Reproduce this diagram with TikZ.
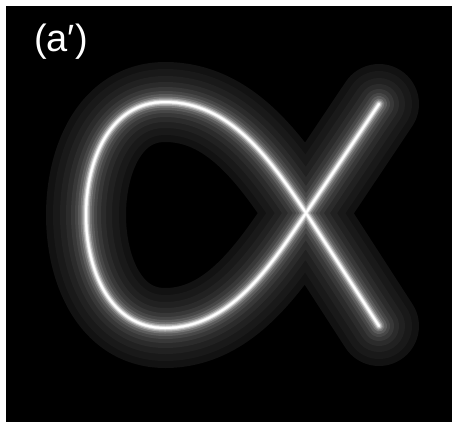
\documentclass[tikz,border=0pt]{standalone}
\usepackage{fontspec}
\setmainfont{Liberation Sans}
\usepackage{tikz}
\tikzstyle{glow} = [line cap=round, line join=round]
\tikzstyle{tag} = [text=white, font=\fontsize{38}{40}\selectfont, inner sep=0pt]
% the alpha-like curve, in pixel units
\def\alphacurve{(379,104) -- (306,213)
  .. controls (270,267) and (230,328) .. (165,328)
  .. controls (110,328) and (86,270) .. (86,215)
  .. controls (86,160) and (110,102) .. (165,102)
  .. controls (230,102) and (270,159) .. (306,213) -- (379,326)}

\begin{document}
\begin{tikzpicture}[x=1pt,y=-1pt]
    \useasboundingbox (0,0) rectangle (452,421);
    \fill[white] (0,0) rectangle (452,421);
    \fill[black] (6,6) rectangle (460,430);
    % glow bands, widest and darkest first
    \foreach \w/\g in {80/7,66/10,52/13,40/17,30/22,22/28,16/36,11/47,7.5/62,5/78,3/92,1.8/100}
      \draw[glow, line width=\w pt, color=white!\g!black] \alphacurve;
    \node[tag] (label) at (61,42) {(a′)};
\end{tikzpicture}
\end{document}
